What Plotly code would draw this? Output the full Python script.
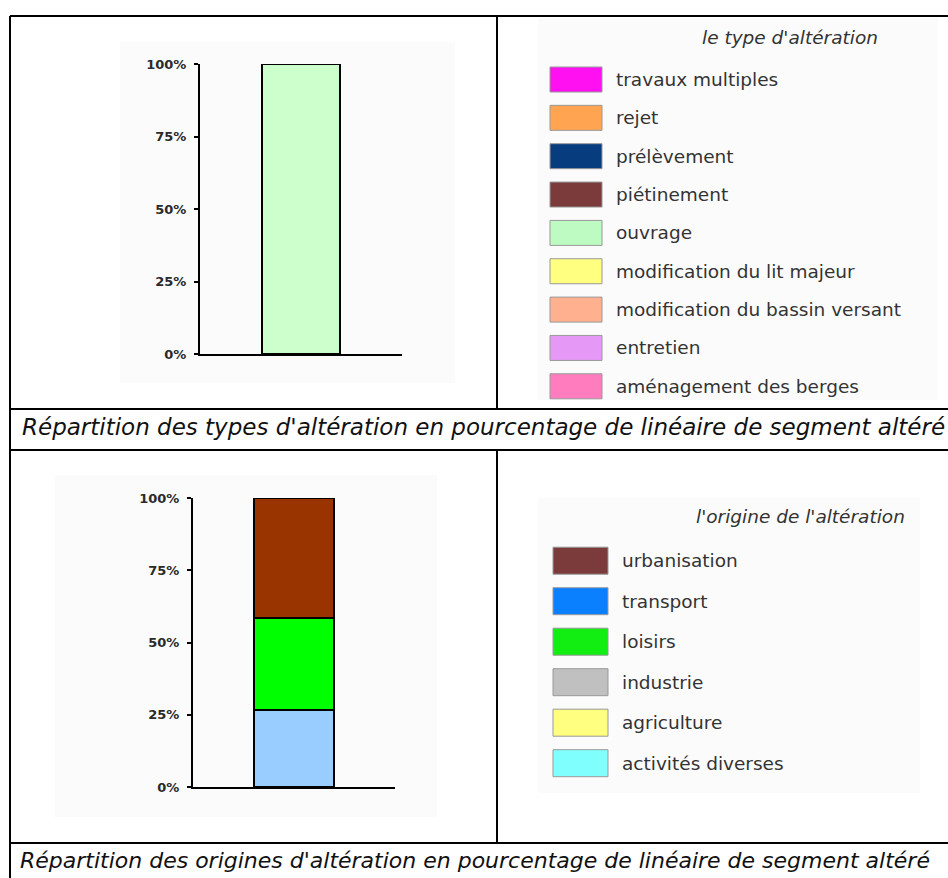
import plotly.graph_objects as go

W, H = 948, 878

# --- data -----------------------------------------------------------------
type_labels = ["travaux multiples", "rejet", "prélèvement", "piétinement", "ouvrage",
               "modification du lit majeur", "modification du bassin versant",
               "entretien", "aménagement des berges"]
type_colors = ["#FF10F0", "#FFA552", "#073C7E", "#7B3B3B", "#BEFBC2",
               "#FFFF80", "#FFB08E", "#E598F5", "#FF7DBE"]
type_bar_names = ["ouvrage"]
type_bar_values = [100]
type_bar_colors = ["#CCFFCC"]

origin_labels = ["urbanisation", "transport", "loisirs", "industrie",
                 "agriculture", "activités diverses"]
origin_colors = ["#7B3B3B", "#0A80FF", "#12EE12", "#C0C0C0", "#FFFF80", "#80FFFF"]
origin_bar_names = ["transport", "loisirs", "urbanisation"]
origin_bar_values = [26.6, 32.0, 41.4]
origin_bar_colors = ["#99CCFF", "#00FF00", "#993300"]

tick_vals = [0, 25, 50, 75, 100]
tick_text = ["0%", "25%", "50%", "75%", "100%"]

caption_types = "Répartition des types d'altération en pourcentage de linéaire de segment altéré"
caption_origins = "Répartition des origines d'altération en pourcentage de linéaire de segment altéré"
title_types = "le type d'altération"
title_origins = "l'origine de l'altération"


def px(x):
    return x / W


def py(y):
    return 1 - y / H


fig = go.Figure()

# stacked bars
for name, val, col in zip(type_bar_names, type_bar_values, type_bar_colors):
    fig.add_trace(go.Bar(x=[0], y=[val], name=name, width=0.39,
                         marker=dict(color=col, line=dict(color="black", width=2)),
                         xaxis="x", yaxis="y", showlegend=False))
for name, val, col in zip(origin_bar_names, origin_bar_values, origin_bar_colors):
    fig.add_trace(go.Bar(x=[0], y=[val], name=name, width=0.40,
                         marker=dict(color=col, line=dict(color="black", width=2)),
                         xaxis="x2", yaxis="y2", showlegend=False))

axis_font = dict(family="DejaVu Sans", size=13, color="#2A2A2A", weight="bold")
common_x = dict(range=[-0.5, 0.5], showgrid=False, zeroline=False, showticklabels=False,
                ticks="", showline=True, linecolor="black", linewidth=2, fixedrange=True,
                automargin=False)
common_y = dict(range=[0, 100], showgrid=False, zeroline=False, tickvals=tick_vals,
                ticktext=tick_text, ticks="outside", ticklen=4, tickwidth=2,
                tickcolor="black", showline=True, linecolor="black", linewidth=2,
                tickfont=axis_font, ticklabelstandoff=5, automargin=False)

layout_shapes = []

# faint panel backgrounds
for (x0, y0, x1, y1) in [(120, 42, 455, 383), (538, 18, 938, 400),
                         (55, 475, 437, 817), (538, 498, 920, 793)]:
    layout_shapes.append(dict(type="rect", xref="paper", yref="paper",
                              x0=px(x0), x1=px(x1), y0=py(y1), y1=py(y0),
                              fillcolor="#FBFBFB", line=dict(width=0), layer="below"))

# table grid
grid = [
    (10, 16, 960, 16), (10, 16, 10, 880),
    (497, 16, 497, 409), (10, 409, 960, 409),
    (10, 450, 960, 450), (497, 450, 497, 843),
    (10, 843, 960, 843),
]
for (x0, y0, x1, y1) in grid:
    layout_shapes.append(dict(type="line", xref="paper", yref="paper",
                              x0=px(x0), x1=px(x1), y0=py(y0), y1=py(y1),
                              line=dict(color="black", width=2)))

annotations = []
legend_font = dict(family="DejaVu Sans", size=18.5, color="#333333")


def add_legend(labels, colors, title, title_x, title_y, sw_x, first_y, step, sw_w, sw_h, txt_x):
    annotations.append(dict(text="<i>" + title + "</i>", xref="paper", yref="paper",
                            x=px(title_x), y=py(title_y), xanchor="right", yanchor="middle",
                            showarrow=False, font=legend_font))
    for i, (lab, col) in enumerate(zip(labels, colors)):
        cy = first_y + i * step
        layout_shapes.append(dict(type="rect", xref="paper", yref="paper",
                                  x0=px(sw_x), x1=px(sw_x + sw_w),
                                  y0=py(cy + sw_h / 2), y1=py(cy - sw_h / 2),
                                  fillcolor=col, line=dict(color="#999999", width=1)))
        annotations.append(dict(text=lab, xref="paper", yref="paper",
                                x=px(txt_x), y=py(cy), xanchor="left", yanchor="middle",
                                showarrow=False, font=legend_font))


add_legend(type_labels, type_colors, title_types, 880, 37, 550, 79.5, 38.35, 52, 25, 614)
add_legend(origin_labels, origin_colors, title_origins, 907, 516, 553, 560.7, 40.5, 55, 27, 620)

annotations.append(dict(text="<i>" + caption_types + "</i>", xref="paper", yref="paper",
                        x=px(20), y=py(427), xanchor="left", yanchor="middle",
                        showarrow=False,
                        font=dict(family="DejaVu Sans", size=23, color="#111111")))
annotations.append(dict(text="<i>" + caption_origins + "</i>", xref="paper", yref="paper",
                        x=px(18), y=py(860), xanchor="left", yanchor="middle",
                        showarrow=False,
                        font=dict(family="DejaVu Sans", size=22, color="#111111")))

fig.update_layout(
    width=W, height=H, margin=dict(l=0, r=0, t=0, b=0, pad=0, autoexpand=False),
    paper_bgcolor="white", plot_bgcolor="rgba(0,0,0,0)",
    barmode="stack", bargap=0,
    xaxis=dict(domain=[px(200), px(402)], anchor="y", **common_x),
    yaxis=dict(domain=[py(354), py(64)], anchor="x", **common_y),
    xaxis2=dict(domain=[px(193), px(395)], anchor="y2", **common_x),
    yaxis2=dict(domain=[py(787), py(498)], anchor="x2", **common_y),
    shapes=layout_shapes,
    annotations=annotations,
)

fig.write_html("out.html")
